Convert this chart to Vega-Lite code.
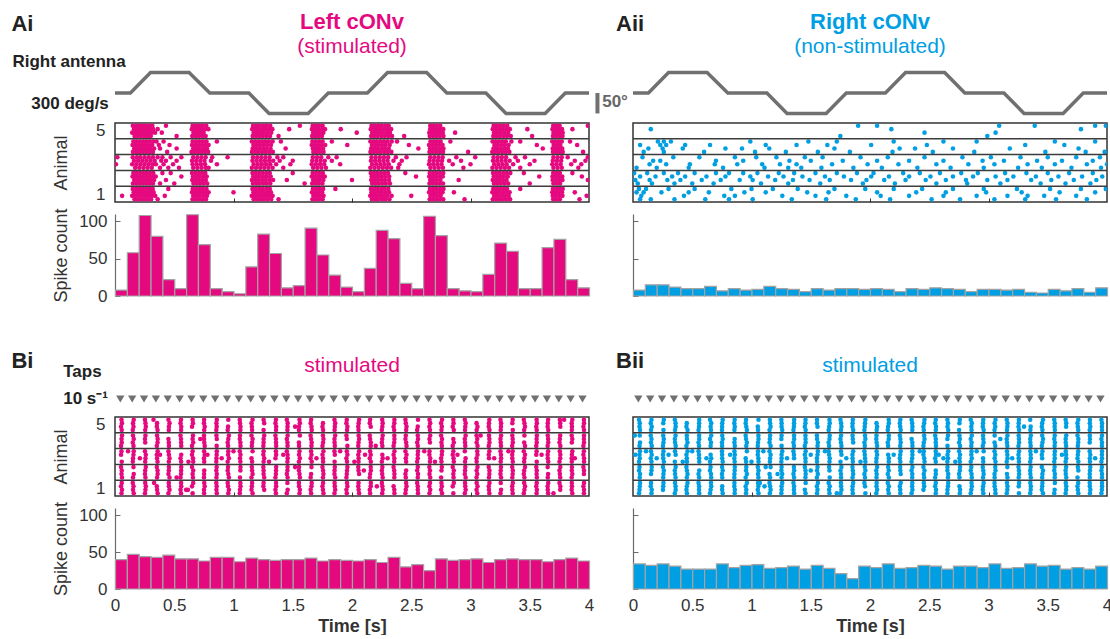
{
  "$schema": "https://vega.github.io/schema/vega-lite/v6.json",
  "background": "white",
  "padding": {"left": 11, "top": 0, "right": 0, "bottom": 0},
  "config": {
    "font": "Liberation Sans",
    "view": {"stroke": null},
    "axis": {"grid": false, "labelFont": "Liberation Sans", "labelFontSize": 17, "labelColor": "#333333", "titleFont": "Liberation Sans", "titleFontSize": 18, "titleFontWeight": "normal", "titleColor": "#333333", "domainColor": "#6b6b6b", "tickColor": "#6b6b6b"}
  },
  "datasets": {
    "trace": [{"t":0,"deg":0},{"t":0.13,"deg":0},{"t":0.3,"deg":50},{"t":0.625,"deg":50},{"t":0.8,"deg":0},{"t":1.13,"deg":0},{"t":1.3,"deg":-50},{"t":1.63,"deg":-50},{"t":1.8,"deg":0},{"t":2.13,"deg":0},{"t":2.3,"deg":50},{"t":2.63,"deg":50},{"t":2.8,"deg":0},{"t":3.13,"deg":0},{"t":3.3,"deg":-50},{"t":3.63,"deg":-50},{"t":3.8,"deg":0},{"t":4,"deg":0}],
    "sep": [{"y":1.5},{"y":2.5},{"y":3.5},{"y":4.5}],
    "taps": [{"t":0.045},{"t":0.145},{"t":0.245},{"t":0.345},{"t":0.445},{"t":0.545},{"t":0.645},{"t":0.745},{"t":0.845},{"t":0.945},{"t":1.045},{"t":1.145},{"t":1.245},{"t":1.345},{"t":1.445},{"t":1.545},{"t":1.645},{"t":1.745},{"t":1.845},{"t":1.945},{"t":2.045},{"t":2.145},{"t":2.245},{"t":2.345},{"t":2.445},{"t":2.545},{"t":2.645},{"t":2.745},{"t":2.845},{"t":2.945},{"t":3.045},{"t":3.145},{"t":3.245},{"t":3.345},{"t":3.445},{"t":3.545},{"t":3.645},{"t":3.745},{"t":3.845},{"t":3.945}],
    "histAi": [{"t":0.05,"n":8},{"t":0.15,"n":58},{"t":0.25,"n":108},{"t":0.35,"n":80},{"t":0.45,"n":22},{"t":0.55,"n":10},{"t":0.65,"n":109},{"t":0.75,"n":69},{"t":0.85,"n":10},{"t":0.95,"n":6},{"t":1.05,"n":3},{"t":1.15,"n":39},{"t":1.25,"n":83},{"t":1.35,"n":57},{"t":1.45,"n":11},{"t":1.55,"n":14},{"t":1.65,"n":91},{"t":1.75,"n":55},{"t":1.85,"n":28},{"t":1.95,"n":12},{"t":2.05,"n":6},{"t":2.15,"n":37},{"t":2.25,"n":88},{"t":2.35,"n":77},{"t":2.45,"n":17},{"t":2.55,"n":10},{"t":2.65,"n":107},{"t":2.75,"n":81},{"t":2.85,"n":10},{"t":2.95,"n":7},{"t":3.05,"n":6},{"t":3.15,"n":29},{"t":3.25,"n":71},{"t":3.35,"n":60},{"t":3.45,"n":10},{"t":3.55,"n":10},{"t":3.65,"n":65},{"t":3.75,"n":76},{"t":3.85,"n":22},{"t":3.95,"n":11}],
    "histAii": [{"t":0.05,"n":8},{"t":0.15,"n":15},{"t":0.25,"n":15},{"t":0.35,"n":12},{"t":0.45,"n":10},{"t":0.55,"n":10},{"t":0.65,"n":13},{"t":0.75,"n":7},{"t":0.85,"n":10},{"t":0.95,"n":8},{"t":1.05,"n":9},{"t":1.15,"n":13},{"t":1.25,"n":10},{"t":1.35,"n":9},{"t":1.45,"n":6},{"t":1.55,"n":10},{"t":1.65,"n":8},{"t":1.75,"n":10},{"t":1.85,"n":10},{"t":1.95,"n":9},{"t":2.05,"n":10},{"t":2.15,"n":9},{"t":2.25,"n":6},{"t":2.35,"n":10},{"t":2.45,"n":9},{"t":2.55,"n":11},{"t":2.65,"n":10},{"t":2.75,"n":9},{"t":2.85,"n":6},{"t":2.95,"n":9},{"t":3.05,"n":9},{"t":3.15,"n":8},{"t":3.25,"n":9},{"t":3.35,"n":5},{"t":3.45,"n":4},{"t":3.55,"n":9},{"t":3.65,"n":7},{"t":3.75,"n":10},{"t":3.85,"n":5},{"t":3.95,"n":11}],
    "histBi": [{"t":0.05,"n":40},{"t":0.15,"n":47},{"t":0.25,"n":44},{"t":0.35,"n":43},{"t":0.45,"n":46},{"t":0.55,"n":41},{"t":0.65,"n":41},{"t":0.75,"n":38},{"t":0.85,"n":43},{"t":0.95,"n":43},{"t":1.05,"n":37},{"t":1.15,"n":42},{"t":1.25,"n":40},{"t":1.35,"n":39},{"t":1.45,"n":40},{"t":1.55,"n":40},{"t":1.65,"n":42},{"t":1.75,"n":38},{"t":1.85,"n":40},{"t":1.95,"n":39},{"t":2.05,"n":38},{"t":2.15,"n":40},{"t":2.25,"n":36},{"t":2.35,"n":43},{"t":2.45,"n":30},{"t":2.55,"n":33},{"t":2.65,"n":25},{"t":2.75,"n":41},{"t":2.85,"n":39},{"t":2.95,"n":40},{"t":3.05,"n":41},{"t":3.15,"n":36},{"t":3.25,"n":40},{"t":3.35,"n":41},{"t":3.45,"n":40},{"t":3.55,"n":40},{"t":3.65,"n":37},{"t":3.75,"n":40},{"t":3.85,"n":42},{"t":3.95,"n":38}],
    "histBii": [{"t":0.05,"n":34},{"t":0.15,"n":32},{"t":0.25,"n":34},{"t":0.35,"n":31},{"t":0.45,"n":27},{"t":0.55,"n":27},{"t":0.65,"n":27},{"t":0.75,"n":34},{"t":0.85,"n":29},{"t":0.95,"n":32},{"t":1.05,"n":33},{"t":1.15,"n":28},{"t":1.25,"n":29},{"t":1.35,"n":31},{"t":1.45,"n":27},{"t":1.55,"n":32},{"t":1.65,"n":28},{"t":1.75,"n":21},{"t":1.85,"n":14},{"t":1.95,"n":31},{"t":2.05,"n":29},{"t":2.15,"n":34},{"t":2.25,"n":28},{"t":2.35,"n":29},{"t":2.45,"n":32},{"t":2.55,"n":31},{"t":2.65,"n":27},{"t":2.75,"n":31},{"t":2.85,"n":31},{"t":2.95,"n":29},{"t":3.05,"n":34},{"t":3.15,"n":28},{"t":3.25,"n":29},{"t":3.35,"n":34},{"t":3.45,"n":31},{"t":3.55,"n":32},{"t":3.65,"n":27},{"t":3.75,"n":29},{"t":3.85,"n":27},{"t":3.95,"n":31}],
    "rasterAi": [
      {"y":5.33,"t":[150,178,205,232,260,288,315,430,655,682,710,740,770,1165,1192,1220,1250,1280,1310,1560,1668,1695,1722,1752,2165,2192,2220,2250,2280,2310,2660,2688,2716,2745,3195,3222,3250,3280,3310,3698,3725,3752,3990]},
      {"y":5.11,"t":[160,185,212,240,268,295,322,360,648,675,702,730,760,788,1158,1185,1212,1242,1270,1300,1328,1470,1662,1690,1718,1748,1772,1905,2158,2185,2212,2242,2272,2302,2330,2660,2686,2714,2742,2770,3188,3215,3243,3272,3302,3332,3480,3692,3718,3745,3772,3860]},
      {"y":4.89,"t":[145,172,200,228,255,282,310,338,395,662,690,718,748,1170,1198,1226,1255,1285,1318,1672,1700,1728,1758,2040,2170,2198,2226,2256,2288,2320,2652,2680,2708,2736,2766,2870,3198,3226,3255,3286,3318,3700,3726,3755,3778]},
      {"y":4.67,"t":[165,192,220,248,275,302,520,652,680,708,736,765,1162,1190,1218,1248,1278,1308,1380,1664,1690,1718,1746,2162,2190,2218,2248,2278,2308,2338,2440,2656,2684,2712,2742,2772,3192,3220,3248,3278,3308,3340,3520,3696,3722,3750,3776]},
      {"y":4.33,"t":[155,182,210,238,266,294,322,350,410,655,684,712,742,772,860,1155,1182,1210,1240,1268,1298,1330,1400,1666,1694,1722,1752,1830,2155,2182,2210,2240,2270,2300,2335,2380,2662,2690,2718,2748,2830,3186,3212,3240,3268,3298,3345,3420,3690,3715,3742,3770,3840]},
      {"y":4.11,"t":[148,175,202,230,258,286,314,370,460,650,678,706,734,762,790,1168,1196,1224,1254,1284,1316,1660,1688,1716,1744,1774,1960,2168,2196,2224,2254,2284,2318,2480,2650,2678,2706,2735,2764,3202,3230,3260,3290,3322,3560,3702,3730,3758,3900]},
      {"y":3.89,"t":[162,190,218,246,274,300,330,380,520,660,688,716,746,776,1162,1190,1220,1250,1280,1312,1440,1670,1698,1726,1756,2162,2190,2218,2248,2278,2310,2560,2658,2686,2714,2744,2772,3194,3222,3252,3284,3316,3610,3694,3720,3748,3774]},
      {"y":3.67,"t":[152,180,208,236,264,292,320,440,646,674,702,730,758,786,1156,1184,1212,1242,1272,1302,1332,1674,1702,1730,1760,2156,2184,2212,2242,2272,2302,2332,2654,2682,2710,2740,2768,2980,3184,3210,3238,3268,3298,3328,3696,3724,3752,3778,3950]},
      {"y":3.33,"t":[20,150,185,215,250,285,320,360,400,470,560,660,695,730,765,820,950,1165,1200,1235,1270,1305,1370,1420,1670,1705,1740,1800,1870,2165,2200,2235,2270,2305,2370,2460,2660,2695,2730,2765,2880,3040,3195,3230,3265,3300,3380,3460,3700,3735,3770,3820,3990]},
      {"y":3.11,"t":[160,195,230,265,300,335,390,430,520,650,685,720,755,810,1160,1195,1230,1265,1300,1335,1390,1500,1665,1700,1735,1770,1830,2160,2195,2230,2265,2300,2350,2420,2655,2690,2725,2760,2820,2920,3190,3225,3260,3295,3330,3400,3540,3695,3730,3765,3880,3970]},
      {"y":2.89,"t":[8,145,180,215,250,285,320,345,410,490,655,690,725,760,860,1170,1205,1240,1275,1310,1360,1480,1660,1695,1730,1765,1900,2170,2205,2240,2275,2310,2400,2650,2685,2720,2755,2850,3000,3200,3235,3270,3305,3360,3500,3690,3725,3760,3850,3935]},
      {"y":2.67,"t":[170,205,240,275,310,380,450,540,660,695,730,765,790,1155,1190,1225,1260,1295,1330,1420,1672,1707,1742,1780,2155,2190,2225,2260,2295,2330,2390,2662,2697,2732,2767,2940,3185,3220,3255,3290,3325,3420,3700,3735,3770,3910]},
      {"y":2.33,"t":[155,183,211,239,267,295,323,400,470,650,678,706,734,762,1160,1188,1216,1246,1276,1306,1500,1668,1696,1724,1754,2158,2186,2214,2244,2274,2304,2450,2656,2684,2712,2742,2770,3190,3218,3246,3276,3306,3336,3450,3698,3726,3754,3860]},
      {"y":2.11,"t":[148,176,204,232,260,288,316,344,560,658,686,714,744,774,1166,1194,1222,1252,1282,1314,1660,1688,1716,1746,1770,2166,2194,2222,2252,2282,2314,2540,2652,2680,2708,2738,2766,3196,3224,3252,3282,3314,3580,3692,3718,3746,3774,3940]},
      {"y":1.89,"t":[162,190,218,246,274,302,330,430,652,680,708,736,766,1156,1184,1212,1242,1272,1304,1334,1450,1672,1700,1728,1758,2000,2162,2190,2218,2248,2278,2312,2660,2688,2716,2746,2900,3188,3216,3244,3274,3304,3694,3722,3750,3776,3990]},
      {"y":1.67,"t":[152,180,208,236,264,292,320,380,500,662,690,718,748,778,1164,1192,1220,1250,1280,1310,1600,1664,1692,1720,1750,2170,2198,2226,2256,2286,2320,2654,2682,2710,2740,2768,3198,3226,3256,3286,3318,3500,3700,3728,3756]},
      {"y":1.33,"t":[150,178,206,234,262,290,318,450,656,684,712,742,772,1160,1188,1216,1246,1276,1306,1670,1698,1726,1756,1860,2160,2188,2216,2246,2276,2306,2658,2686,2714,2744,2772,3192,3220,3248,3278,3308,3420,3696,3724,3752,3778]},
      {"y":1.11,"t":[158,186,214,242,270,298,326,650,678,706,734,764,790,1000,1168,1196,1224,1254,1284,1316,1662,1690,1718,1748,2164,2192,2220,2250,2280,2312,2650,2678,2706,2736,2764,2860,3184,3212,3240,3270,3300,3330,3690,3716,3744,3772,3880]},
      {"y":0.89,"t":[60,145,173,201,229,257,285,313,340,420,660,688,716,746,776,1154,1182,1210,1240,1270,1300,1330,1674,1702,1730,1760,2154,2182,2210,2240,2270,2300,2334,2500,2662,2690,2718,2748,3200,3228,3258,3290,3322,3694,3720,3748,3776,3980]},
      {"y":0.67,"t":[165,193,221,249,277,305,360,654,682,710,740,768,1170,1198,1226,1256,1286,1318,1380,1666,1694,1722,1752,2168,2196,2224,2254,2284,2316,2656,2684,2712,2742,2770,2950,3188,3216,3244,3274,3304,3334,3698,3726,3754,3920]}
    ],
    "rasterAii": [
      {"y":5.33,"t":[1900,2060,3090,3390,3900,3990]},
      {"y":5.11,"t":[150,2180,3780]},
      {"y":4.89,"t":[2460,3060]},
      {"y":4.67,"t":[1750,2990]},
      {"y":4.33,"t":[210,260,320,990,1480,1720,2200,2620,2900,3560,3900]},
      {"y":4.11,"t":[60,230,280,440,650,1120,1380,1640,2010,2480,3310,3640]},
      {"y":3.89,"t":[130,250,420,780,920,1150,1700,2250,2380,2700,3180,3760]},
      {"y":3.67,"t":[90,260,600,1030,1290,1560,1830,2190,2530,2880,3480,3820,3980]},
      {"y":3.33,"t":[80,340,560,860,1040,1210,1450,1600,1920,2150,2460,2780,3020,3270,3500,3740,3940]},
      {"y":3.11,"t":[170,230,700,930,1320,1500,1770,2060,2330,2620,2950,3130,3410,3620,3880]},
      {"y":2.89,"t":[140,280,480,690,880,1090,1240,1380,1680,1980,2240,2560,2830,3050,3330,3560,3830,4000]},
      {"y":2.67,"t":[30,200,470,760,1110,1310,1420,1590,1860,2100,2400,2680,2960,3250,3450,3700,3950]},
      {"y":2.33,"t":[10,120,260,380,520,700,810,930,1050,1230,1360,1540,1720,1890,2030,2280,2420,2590,2770,2910,3140,3320,3500,3680,3880]},
      {"y":2.11,"t":[60,190,330,440,620,780,990,1140,1270,1430,1620,1780,2010,2160,2330,2510,2700,2870,3060,3210,3400,3590,3790,3960]},
      {"y":1.89,"t":[20,140,290,400,580,740,900,1010,1200,1350,1490,1660,1840,1970,2120,2300,2470,2640,2810,2990,3160,3360,3530,3720,3910]},
      {"y":1.67,"t":[40,160,350,500,680,1080,1310,1580,1940,2210,2560,2820,3100,3440,3650,3860]},
      {"y":1.33,"t":[50,110,300,520,830,1000,1180,1390,1700,1960,2200,2440,2700,2960,3240,3520,3780,3990]},
      {"y":1.11,"t":[30,90,240,470,640,940,1120,1470,1650,2060,2390,2640,2980,3280,3600,3900]},
      {"y":0.89,"t":[70,430,770,860,1260,1540,1800,2090,2330,2620,2900,3160,3330,3470,3740]},
      {"y":0.67,"t":[60,150,350,610,810,1010,1340,1630,1880,2170,2520,2760,3050,3310,3570,3830]}
    ],
    "rasterBi": [
      {"y":5.33,"t":[55,158,253,451,557,655,752,859,956,1053,1161,1254,1358,1450,1557,1655,1852,1956,2060,2153,2255,2358,2451,2557,2654,2760,2855,2952,3159,3253,3356,3450,3558,3655,3754,3859,3957,325,3790]},
      {"y":5.11,"t":[59,152,257,355,460,553,658,751,856,1055,1152,1259,1354,1457,1560,1651,1755,1858,1953,2056,2150,2259,2357,2454,2660,2752,2857,2959,3051,3156,3258,3353,3455,3560,3652,3757,3854,3958]},
      {"y":4.89,"t":[51,156,260,353,455,559,650,757,858,954,1059,1155,1360,1456,1553,1658,1751,1855,1961,2053,2158,2256,2351,2460,2555,2653,2758,2850,2956,3059,3154,3257,3460,3555,3651,3758,3856,3953,1520]},
      {"y":4.67,"t":[57,150,255,359,454,558,753,855,951,1058,1157,1254,1359,1455,1552,1660,1756,1853,1958,2055,2252,2356,2457,2550,2658,2755,2859,2954,3052,3160,3255,3357,3453,3559,3656,3855,3958]},
      {"y":4.33,"t":[59,152,257,355,553,658,751,856,961,1055,1152,1259,1354,1457,1560,1651,1755,1858,1953,2056,2150,2259,2357,2454,2555,2660,2752,2959,3051,3156,3258,3353,3455,3560,3652,3757,3854,3958,3085]},
      {"y":4.11,"t":[55,158,253,360,451,557,655,752,859,956,1053,1161,1254,1358,1450,1655,1759,1852,1956,2060,2153,2255,2358,2451,2557,2654,2760,2855,2952,3057,3159,3253,3356,3558,3655,3754,3859,3957,720]},
      {"y":3.89,"t":[57,150,255,359,454,558,660,753,951,1058,1157,1254,1359,1455,1552,1660,1756,1853,2055,2159,2252,2356,2457,2550,2658,2755,2859,2954,3052,3160,3255,3357,3453,3559,3656,3751,3855,3958]},
      {"y":3.67,"t":[51,156,353,455,559,650,757,858,954,1059,1155,1252,1360,1456,1553,1658,1751,1855,1961,2053,2158,2256,2351,2460,2555,2758,2850,2956,3059,3154,3257,3352,3460,3555,3651,3758,3953,2200]},
      {"y":3.33,"t":[55,158,253,360,451,655,752,859,956,1053,1161,1254,1358,1450,1557,1655,1759,1852,1956,2060,2153,2358,2451,2557,2654,2760,2855,2952,3057,3159,3253,3356,3450,3558,3655,3754,3859,3957,110,1000,1900,2610,3320]},
      {"y":3.11,"t":[51,156,260,353,455,559,650,757,858,954,1059,1252,1360,1456,1553,1658,1751,1855,1961,2053,2158,2256,2351,2460,2555,2653,2758,2850,3059,3154,3257,3352,3460,3555,3651,3758,3856,3953,380,780,1420,2110,2890,3600]},
      {"y":2.89,"t":[152,257,355,460,553,658,751,856,961,1055,1152,1259,1354,1457,1560,1651,1755,1953,2056,2150,2259,2357,2454,2555,2660,2752,2857,2959,3051,3156,3258,3353,3455,3652,3757,3854,3958,210,900,1700,2300,3200,3880]},
      {"y":2.67,"t":[57,150,255,359,454,558,660,753,855,951,1058,1157,1254,1455,1552,1660,1756,1853,1958,2055,2159,2252,2356,2457,2550,2658,2755,2859,2954,3052,3255,3357,3453,3559,3656,3751,3855,3958,620,1300,2020,2700]},
      {"y":2.33,"t":[51,156,260,353,455,559,650,858,954,1059,1155,1252,1360,1456,1553,1658,1751,1855,1961,2053,2158,2256,2351,2555,2653,2758,2850,2956,3059,3154,3257,3352,3460,3555,3651,3758,3856,3953,1520]},
      {"y":2.11,"t":[57,255,359,454,558,660,753,855,951,1058,1157,1254,1359,1455,1552,1756,1853,1958,2055,2159,2252,2356,2457,2550,2658,2755,2859,2954,3052,3160,3255,3357,3453,3559,3751,3855,3958,2100]},
      {"y":1.89,"t":[55,158,253,360,451,557,655,752,859,956,1161,1254,1358,1450,1557,1655,1759,1852,1956,2060,2153,2255,2358,2451,2557,2654,2855,2952,3057,3159,3253,3356,3450,3558,3655,3754,3859,3957]},
      {"y":1.67,"t":[59,152,257,355,460,553,658,751,856,961,1055,1152,1259,1354,1457,1560,1651,1755,1858,1953,2150,2259,2357,2454,2555,2660,2752,2857,2959,3051,3156,3258,3353,3455,3560,3652,3757,3854,520]},
      {"y":1.33,"t":[57,150,255,454,558,660,753,855,951,1058,1157,1254,1359,1455,1552,1660,1756,1853,1958,2055,2159,2252,2457,2550,2658,2755,2859,2954,3052,3160,3255,3357,3453,3559,3656,3751,3855,3958,330]},
      {"y":1.11,"t":[51,156,260,353,455,559,650,757,858,954,1059,1155,1252,1360,1553,1658,1751,1855,1961,2053,2158,2256,2351,2460,2555,2653,2758,2850,2956,3059,3154,3352,3460,3555,3651,3758,3856,3953,2210]},
      {"y":0.89,"t":[59,152,257,355,460,553,751,856,961,1055,1152,1259,1354,1457,1560,1651,1755,1858,1953,2056,2150,2259,2357,2454,2555,2660,2752,2959,3051,3156,3258,3353,3455,3560,3652,3757,3854,3958,600,615]},
      {"y":0.67,"t":[55,158,253,360,451,557,655,752,859,956,1053,1161,1358,1450,1557,1655,1759,1852,1956,2060,2153,2255,2358,2451,2557,2654,2760,2855,2952,3057,3159,3253,3356,3450,3558,3655,3859,3957,3700]}
    ],
    "rasterBii": [
      {"y":5.33,"t":[51,156,260,353,559,650,757,858,954,1059,1155,1252,1360,1456,1553,1658,1751,1855,1961,2158,2256,2351,2460,2555,2653,2758,2850,2956,3059,3154,3257,3352,3460,3555,3651,3758,3856,3953]},
      {"y":5.11,"t":[57,150,255,359,454,558,660,753,855,951,1157,1254,1359,1455,1552,1660,1756,1853,1958,2055,2159,2252,2356,2457,2550,2658,2755,2859,2954,3052,3160,3255,3453,3559,3656,3751,3855,3958]},
      {"y":4.89,"t":[55,158,360,451,557,655,752,859,956,1053,1161,1254,1358,1450,1557,1655,1759,1852,1956,2060,2153,2255,2358,2451,2557,2654,2855,2952,3057,3159,3253,3356,3450,3558,3655,3754,3859,3957,3300]},
      {"y":4.67,"t":[59,152,257,355,460,553,658,751,856,961,1055,1152,1259,1354,1457,1651,1755,1858,1953,2056,2150,2259,2357,2454,2555,2660,2752,2857,2959,3051,3156,3258,3353,3455,3560,3757,3854,3958]},
      {"y":4.33,"t":[57,150,255,359,454,558,660,753,951,1058,1157,1254,1359,1455,1552,1660,1756,1853,1958,2055,2159,2252,2457,2550,2658,2755,2859,2954,3052,3160,3255,3357,3453,3559,3656,3751,3855,3958,15]},
      {"y":4.11,"t":[156,260,353,455,559,650,757,858,954,1059,1155,1252,1360,1456,1553,1658,1751,1855,1961,2053,2158,2256,2351,2460,2555,2653,2758,2850,2956,3154,3257,3352,3460,3555,3651,3758,3856,3953,3100]},
      {"y":3.89,"t":[59,152,257,355,460,553,658,751,856,961,1055,1152,1354,1457,1560,1651,1755,1858,1953,2056,2150,2259,2357,2454,2555,2752,2857,2959,3051,3156,3258,3353,3455,3560,3652,3757,3854,3958]},
      {"y":3.67,"t":[55,158,253,360,451,557,655,752,859,956,1053,1161,1254,1358,1450,1557,1655,1759,1956,2060,2153,2255,2358,2451,2557,2654,2760,2855,2952,3057,3159,3253,3356,3450,3558,3655,3754,3957]},
      {"y":3.33,"t":[59,152,257,355,460,553,751,856,961,1055,1152,1259,1354,1457,1560,1651,1755,1858,1953,2056,2259,2357,2454,2555,2660,2752,2857,2959,3051,3156,3258,3353,3455,3560,3652,3757,3854,3958,110,500,1100,1620,2420,2900,3400]},
      {"y":3.11,"t":[55,158,253,360,451,557,655,752,859,1053,1161,1254,1358,1450,1557,1655,1759,1852,1956,2060,2153,2255,2358,2451,2557,2654,2760,2855,3057,3159,3253,3356,3450,3558,3655,3754,3859,3957,20,300,820,1500,2200,2580,3620]},
      {"y":2.89,"t":[57,150,255,454,558,660,753,855,951,1058,1157,1254,1359,1455,1552,1660,1853,1958,2055,2159,2252,2356,2457,2550,2658,2755,2859,2954,3052,3160,3255,3357,3453,3559,3656,3751,3855,3958,200,620,1300,1800,2620,3200,3900]},
      {"y":2.67,"t":[51,156,260,353,455,559,650,757,858,954,1059,1155,1252,1456,1553,1658,1751,1855,1961,2053,2158,2256,2351,2460,2555,2653,2758,2850,2956,3059,3154,3257,3352,3555,3651,3758,3856,3953,420,1000,1920,2720]},
      {"y":2.33,"t":[55,158,253,360,451,655,752,859,956,1053,1161,1254,1358,1450,1557,1655,1759,1852,1956,2060,2153,2255,2358,2451,2654,2760,2855,2952,3057,3159,3253,3356,3450,3558,3655,3754,3859,3957,1120]},
      {"y":2.11,"t":[51,156,260,353,455,559,650,757,858,954,1059,1252,1360,1456,1553,1658,1751,1855,1961,2053,2158,2256,2351,2460,2555,2653,2758,2850,2956,3059,3257,3352,3460,3555,3651,3758,3856,3953,1500]},
      {"y":1.89,"t":[59,152,257,355,460,553,658,751,856,961,1055,1152,1259,1354,1457,1560,1755,1858,1953,2056,2150,2259,2357,2454,2555,2660,2752,2857,2959,3051,3156,3258,3353,3455,3560,3652,3854,3958,1220]},
      {"y":1.67,"t":[57,255,359,454,558,660,753,855,951,1058,1157,1254,1359,1455,1552,1660,1756,1853,1958,2055,2159,2356,2457,2550,2658,2755,2859,2954,3052,3160,3255,3357,3453,3559,3656,3751,3855,3958]},
      {"y":1.33,"t":[59,152,257,355,460,553,658,856,961,1055,1152,1259,1354,1457,1560,1651,1755,1858,1953,2056,2150,2259,2357,2454,2555,2660,2857,2959,3051,3156,3258,3353,3455,3560,3652,3757,3854,3958,1070]},
      {"y":1.11,"t":[57,150,255,359,454,558,660,753,855,951,1058,1157,1254,1359,1552,1660,1756,1853,1958,2055,2159,2252,2356,2457,2550,2658,2755,2859,2954,3052,3160,3255,3357,3453,3656,3751,3855,3958,1110]},
      {"y":0.89,"t":[55,158,253,360,451,557,655,752,859,956,1053,1161,1254,1358,1450,1557,1655,1759,1852,2060,2153,2255,2358,2451,2557,2654,2760,2855,2952,3057,3159,3356,3450,3558,3655,3754,3859,3957]},
      {"y":0.67,"t":[51,156,353,455,559,650,757,858,954,1059,1155,1252,1360,1456,1553,1658,1751,1855,1961,2053,2158,2256,2351,2555,2653,2758,2850,2956,3059,3154,3257,3352,3460,3555,3651,3758,3856,3953,1720]}
    ]
  },
  "columns": 2,
  "spacing": {"row": 12, "column": 44},
  "bounds": "flush",
  "concat": [
    {
      "width": 474, "height": 111,
      "layer": [
        {"data": {"name": "trace"}, "mark": {"type": "line", "color": "#707070", "strokeWidth": 3.5},
         "encoding": {"x": {"field": "t", "type": "quantitative", "scale": {"domain": [0, 4], "nice": false, "zero": false}, "axis": null},
                      "y": {"field": "deg", "type": "quantitative", "scale": {"domain": [-44, 227], "nice": false, "zero": false}, "axis": null}}},
        {"data": {"values": [{}]}, "mark": {"type": "text", "text": "Ai", "align": "left", "baseline": "middle", "fontSize": 22, "fontWeight": "bold", "color": "#222222"},
         "encoding": {"x": {"datum": -0.874, "type": "quantitative", "axis": null}, "y": {"datum": 168, "type": "quantitative", "axis": null}}},
        {"data": {"values": [{}]}, "mark": {"type": "text", "text": "Right antenna", "align": "left", "baseline": "middle", "fontSize": 17, "fontWeight": "bold", "color": "#222222"},
         "encoding": {"x": {"datum": -0.866, "type": "quantitative", "axis": null}, "y": {"datum": 76, "type": "quantitative", "axis": null}}},
        {"data": {"values": [{}]}, "mark": {"type": "text", "text": "300 deg/s", "align": "left", "baseline": "middle", "fontSize": 17, "fontWeight": "bold", "color": "#222222"},
         "encoding": {"x": {"datum": -0.706, "type": "quantitative", "axis": null}, "y": {"datum": -27, "type": "quantitative", "axis": null}}},
        {"data": {"values": [{}]}, "mark": {"type": "text", "text": "Left cONv", "align": "center", "baseline": "middle", "fontSize": 22, "fontWeight": "bold", "color": "#E5097F"},
         "encoding": {"x": {"datum": 2, "type": "quantitative", "axis": null}, "y": {"datum": 173, "type": "quantitative", "axis": null}}},
        {"data": {"values": [{}]}, "mark": {"type": "text", "text": "(stimulated)", "align": "center", "baseline": "middle", "fontSize": 21, "color": "#E5097F"},
         "encoding": {"x": {"datum": 2, "type": "quantitative", "axis": null}, "y": {"datum": 112, "type": "quantitative", "axis": null}}}
      ]
    },
    {
      "width": 474, "height": 111,
      "layer": [
        {"data": {"name": "trace"}, "mark": {"type": "line", "color": "#707070", "strokeWidth": 3.5},
         "encoding": {"x": {"field": "t", "type": "quantitative", "scale": {"domain": [0, 4], "nice": false, "zero": false}, "axis": null},
                      "y": {"field": "deg", "type": "quantitative", "scale": {"domain": [-44, 227], "nice": false, "zero": false}, "axis": null}}},
        {"data": {"values": [{}]}, "mark": {"type": "rule", "color": "#707070", "strokeWidth": 4},
         "encoding": {"x": {"datum": -0.3, "type": "quantitative", "axis": null}, "y": {"datum": 0, "type": "quantitative", "axis": null}, "y2": {"datum": -50}}},
        {"data": {"values": [{}]}, "mark": {"type": "text", "text": "50°", "align": "left", "baseline": "middle", "fontSize": 17, "fontWeight": "bold", "color": "#666666"},
         "encoding": {"x": {"datum": -0.26, "type": "quantitative", "axis": null}, "y": {"datum": -22, "type": "quantitative", "axis": null}}},
        {"data": {"values": [{}]}, "mark": {"type": "text", "text": "Aii", "align": "left", "baseline": "middle", "fontSize": 22, "fontWeight": "bold", "color": "#222222"},
         "encoding": {"x": {"datum": -0.143, "type": "quantitative", "axis": null}, "y": {"datum": 168, "type": "quantitative", "axis": null}}},
        {"data": {"values": [{}]}, "mark": {"type": "text", "text": "Right cONv", "align": "center", "baseline": "middle", "fontSize": 22, "fontWeight": "bold", "color": "#009EE2"},
         "encoding": {"x": {"datum": 2, "type": "quantitative", "axis": null}, "y": {"datum": 173, "type": "quantitative", "axis": null}}},
        {"data": {"values": [{}]}, "mark": {"type": "text", "text": "(non-stimulated)", "align": "center", "baseline": "middle", "fontSize": 21, "color": "#009EE2"},
         "encoding": {"x": {"datum": 2, "type": "quantitative", "axis": null}, "y": {"datum": 112, "type": "quantitative", "axis": null}}}
      ]
    },
    {
      "width": 474, "height": 79,
      "view": {"stroke": "#333333", "strokeWidth": 1.5},
      "layer": [
        {"data": {"name": "rasterAi"}, "transform": [{"flatten": ["t"]}],
         "mark": {"type": "circle", "size": 21, "color": "#E5097F", "opacity": 1, "clip": true},
         "encoding": {"x": {"field": "t", "type": "quantitative", "scale": {"domain": [0, 4000], "nice": false, "zero": false}, "axis": {"values": [1000, 2000, 3000], "labels": false, "domain": false, "tickSize": -4, "tickColor": "#333333", "title": null}},
                      "y": {"field": "y", "type": "quantitative", "scale": {"domain": [0.5, 5.5], "nice": false, "zero": false}, "axis": {"values": [1, 3, 5], "ticks": false, "domain": false, "labelPadding": 10, "title": "Animal", "titleX": -45}}}},
        {"data": {"name": "sep"}, "mark": {"type": "rule", "color": "#3c3c3c", "strokeWidth": 1.5},
         "encoding": {"y": {"field": "y", "type": "quantitative"}}}
      ]
    },
    {
      "width": 474, "height": 79,
      "view": {"stroke": "#333333", "strokeWidth": 1.5},
      "layer": [
        {"data": {"name": "rasterAii"}, "transform": [{"flatten": ["t"]}],
         "mark": {"type": "circle", "size": 21, "color": "#009EE2", "opacity": 1, "clip": true},
         "encoding": {"x": {"field": "t", "type": "quantitative", "scale": {"domain": [0, 4000], "nice": false, "zero": false}, "axis": {"values": [1000, 2000, 3000], "labels": false, "domain": false, "tickSize": -4, "tickColor": "#333333", "title": null}},
                      "y": {"field": "y", "type": "quantitative", "scale": {"domain": [0.5, 5.5], "nice": false, "zero": false}, "axis": null}}},
        {"data": {"name": "sep"}, "mark": {"type": "rule", "color": "#3c3c3c", "strokeWidth": 1.5},
         "encoding": {"y": {"field": "y", "type": "quantitative", "axis": null}}}
      ]
    },
    {
      "width": 474, "height": 82,
      "data": {"name": "histAi"},
      "mark": {"type": "bar", "color": "#E5097F", "stroke": "#a3a3a3", "strokeWidth": 1.2, "binSpacing": 0},
      "encoding": {
        "x": {"field": "t", "type": "quantitative", "bin": {"step": 0.1, "extent": [0, 4]}, "scale": {"domain": [0, 4], "nice": false, "zero": false}, "axis": null},
        "y": {"field": "n", "type": "quantitative", "aggregate": "sum", "scale": {"domain": [0, 110], "nice": false}, "axis": {"values": [0, 50, 100], "tickSize": -5, "labelPadding": 13, "title": "Spike count", "titleX": -45, "domainWidth": 1.2}}
      }
    },
    {
      "width": 474, "height": 82,
      "data": {"name": "histAii"},
      "mark": {"type": "bar", "color": "#009EE2", "stroke": "#a3a3a3", "strokeWidth": 1.2, "binSpacing": 0},
      "encoding": {
        "x": {"field": "t", "type": "quantitative", "bin": {"step": 0.1, "extent": [0, 4]}, "scale": {"domain": [0, 4], "nice": false, "zero": false}, "axis": null},
        "y": {"field": "n", "type": "quantitative", "aggregate": "sum", "scale": {"domain": [0, 110], "nice": false}, "axis": {"values": [0, 50, 100], "tickSize": -5, "labels": false, "title": null, "domainWidth": 1.2}}
      }
    },
    {
      "width": 474, "height": 97,
      "layer": [
        {"data": {"name": "taps"}, "mark": {"type": "point", "shape": "triangle-down", "filled": true, "size": 70, "color": "#707070", "opacity": 1},
         "encoding": {"x": {"field": "t", "type": "quantitative", "scale": {"domain": [0, 4], "nice": false, "zero": false}, "axis": null},
                      "y": {"datum": 6, "type": "quantitative", "scale": {"domain": [0, 97], "nice": false, "zero": false}, "axis": null}}},
        {"data": {"values": [{}]}, "mark": {"type": "text", "text": "Bi", "align": "left", "baseline": "middle", "fontSize": 22, "fontWeight": "bold", "color": "#222222"},
         "encoding": {"x": {"datum": -0.874, "type": "quantitative", "axis": null}, "y": {"datum": 44, "type": "quantitative", "axis": null}}},
        {"data": {"values": [{}]}, "mark": {"type": "text", "text": "Taps", "align": "left", "baseline": "middle", "fontSize": 17, "fontWeight": "bold", "color": "#222222"},
         "encoding": {"x": {"datum": -0.437, "type": "quantitative", "axis": null}, "y": {"datum": 33, "type": "quantitative", "axis": null}}},
        {"data": {"values": [{}]}, "mark": {"type": "text", "text": "10 s⁻¹", "align": "left", "baseline": "middle", "fontSize": 17, "fontWeight": "bold", "color": "#222222"},
         "encoding": {"x": {"datum": -0.437, "type": "quantitative", "axis": null}, "y": {"datum": 6, "type": "quantitative", "axis": null}}},
        {"data": {"values": [{}]}, "mark": {"type": "text", "text": "stimulated", "align": "center", "baseline": "middle", "fontSize": 21, "color": "#E5097F"},
         "encoding": {"x": {"datum": 2, "type": "quantitative", "axis": null}, "y": {"datum": 39, "type": "quantitative", "axis": null}}}
      ]
    },
    {
      "width": 474, "height": 97,
      "layer": [
        {"data": {"name": "taps"}, "mark": {"type": "point", "shape": "triangle-down", "filled": true, "size": 70, "color": "#707070", "opacity": 1},
         "encoding": {"x": {"field": "t", "type": "quantitative", "scale": {"domain": [0, 4], "nice": false, "zero": false}, "axis": null},
                      "y": {"datum": 6, "type": "quantitative", "scale": {"domain": [0, 97], "nice": false, "zero": false}, "axis": null}}},
        {"data": {"values": [{}]}, "mark": {"type": "text", "text": "Bii", "align": "left", "baseline": "middle", "fontSize": 22, "fontWeight": "bold", "color": "#222222"},
         "encoding": {"x": {"datum": -0.143, "type": "quantitative", "axis": null}, "y": {"datum": 44, "type": "quantitative", "axis": null}}},
        {"data": {"values": [{}]}, "mark": {"type": "text", "text": "stimulated", "align": "center", "baseline": "middle", "fontSize": 21, "color": "#009EE2"},
         "encoding": {"x": {"datum": 2, "type": "quantitative", "axis": null}, "y": {"datum": 39, "type": "quantitative", "axis": null}}}
      ]
    },
    {
      "width": 474, "height": 79,
      "view": {"stroke": "#333333", "strokeWidth": 1.5},
      "layer": [
        {"data": {"name": "rasterBi"}, "transform": [{"flatten": ["t"]}],
         "mark": {"type": "circle", "size": 21, "color": "#E5097F", "opacity": 1, "clip": true},
         "encoding": {"x": {"field": "t", "type": "quantitative", "scale": {"domain": [0, 4000], "nice": false, "zero": false}, "axis": {"values": [1000, 2000, 3000], "labels": false, "domain": false, "tickSize": -4, "tickColor": "#333333", "title": null}},
                      "y": {"field": "y", "type": "quantitative", "scale": {"domain": [0.5, 5.5], "nice": false, "zero": false}, "axis": {"values": [1, 3, 5], "ticks": false, "domain": false, "labelPadding": 10, "title": "Animal", "titleX": -45}}}},
        {"data": {"name": "sep"}, "mark": {"type": "rule", "color": "#3c3c3c", "strokeWidth": 1.5},
         "encoding": {"y": {"field": "y", "type": "quantitative"}}}
      ]
    },
    {
      "width": 474, "height": 79,
      "view": {"stroke": "#333333", "strokeWidth": 1.5},
      "layer": [
        {"data": {"name": "rasterBii"}, "transform": [{"flatten": ["t"]}],
         "mark": {"type": "circle", "size": 21, "color": "#009EE2", "opacity": 1, "clip": true},
         "encoding": {"x": {"field": "t", "type": "quantitative", "scale": {"domain": [0, 4000], "nice": false, "zero": false}, "axis": {"values": [1000, 2000, 3000], "labels": false, "domain": false, "tickSize": -4, "tickColor": "#333333", "title": null}},
                      "y": {"field": "y", "type": "quantitative", "scale": {"domain": [0.5, 5.5], "nice": false, "zero": false}, "axis": null}}},
        {"data": {"name": "sep"}, "mark": {"type": "rule", "color": "#3c3c3c", "strokeWidth": 1.5},
         "encoding": {"y": {"field": "y", "type": "quantitative", "axis": null}}}
      ]
    },
    {
      "width": 474, "height": 81,
      "data": {"name": "histBi"},
      "mark": {"type": "bar", "color": "#E5097F", "stroke": "#a3a3a3", "strokeWidth": 1.2, "binSpacing": 0},
      "encoding": {
        "x": {"field": "t", "type": "quantitative", "bin": {"step": 0.1, "extent": [0, 4]}, "scale": {"domain": [0, 4], "nice": false, "zero": false},
              "axis": {"values": [0, 0.5, 1, 1.5, 2, 2.5, 3, 3.5, 4], "format": "~g", "labelFlush": false, "ticks": false, "domain": false, "labelPadding": 8, "title": "Time [s]", "titleFontWeight": "bold", "titlePadding": 4}},
        "y": {"field": "n", "type": "quantitative", "aggregate": "sum", "scale": {"domain": [0, 110], "nice": false}, "axis": {"values": [0, 50, 100], "tickSize": -5, "labelPadding": 13, "title": "Spike count", "titleX": -45, "domainWidth": 1.2}}
      }
    },
    {
      "width": 474, "height": 81,
      "data": {"name": "histBii"},
      "mark": {"type": "bar", "color": "#009EE2", "stroke": "#a3a3a3", "strokeWidth": 1.2, "binSpacing": 0},
      "encoding": {
        "x": {"field": "t", "type": "quantitative", "bin": {"step": 0.1, "extent": [0, 4]}, "scale": {"domain": [0, 4], "nice": false, "zero": false},
              "axis": {"values": [0, 0.5, 1, 1.5, 2, 2.5, 3, 3.5, 4], "format": "~g", "labelFlush": false, "ticks": false, "domain": false, "labelPadding": 8, "title": "Time [s]", "titleFontWeight": "bold", "titlePadding": 4}},
        "y": {"field": "n", "type": "quantitative", "aggregate": "sum", "scale": {"domain": [0, 110], "nice": false}, "axis": {"values": [0, 50, 100], "tickSize": -5, "labels": false, "title": null, "domainWidth": 1.2}}
      }
    }
  ]
}
